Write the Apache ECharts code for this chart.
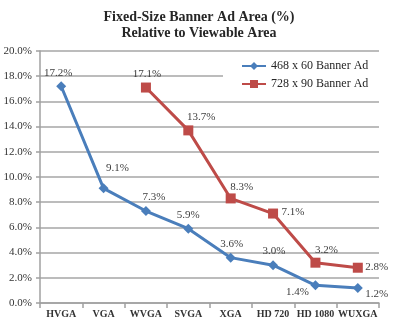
<!DOCTYPE html>
<html>
<head>
<meta charset="utf-8">
<script src="https://cdn.jsdelivr.net/npm/echarts@6/dist/echarts.min.js"></script>
<style>
html,body{margin:0;padding:0;background:#fff;}
#c{width:394px;height:322px;}
</style>
</head>
<body>
<div id="c"></div>
<script>
var categories = ['HVGA','VGA','WVGA','SVGA','XGA','HD 720','HD 1080','WUXGA'];
var banner468 = [17.2, 9.1, 7.3, 5.9, 3.6, 3.0, 1.4, 1.2];
var banner728 = [null, null, 17.1, 13.7, 8.3, 7.1, 3.2, 2.8];
var seriesNames = ['468 x 60 Banner Ad', '728 x 90 Banner Ad'];
var yTicks = [0, 2, 4, 6, 8, 10, 12, 14, 16, 18, 20];

// label offsets (pixels from point centre)
var off468 = [[-3,-13],[14,-20],[8,-14],[0,-14],[1,-14],[1,-14],[-18,7],[19,6]];
var off728 = [null,null,[1,-13],[13,-13],[11,-11],[20,-1],[11,-13],[19,-1]];

var FONT = '"Liberation Serif", "DejaVu Serif", serif';
var BLUE = '#4a7ebb';
var RED = '#be4b48';

function build(vals, offs) {
  return vals.map(function (v, i) {
    if (v === null) return null;
    return {
      value: v,
      label: { show: true, position: 'inside', offset: offs[i] }
    };
  });
}

var chart = echarts.init(document.getElementById('c'), null, {renderer: 'canvas'});
chart.setOption({
  animation: false,
  backgroundColor: '#fff',
  title: {
    text: 'Fixed-Size Banner Ad Area (%)\nRelative to Viewable Area',
    left: 194, top: 4, textAlign: 'center',
    textStyle: { fontFamily: FONT, fontWeight: 'bold', fontSize: 14, color: '#262626', lineHeight: 16 }
  },
  legend: {
    orient: 'vertical',
    left: 223, top: 57,
    padding: [3, 18, 6, 18],
    backgroundColor: '#fff',
    itemWidth: 24, itemHeight: 10, itemGap: 6,
    textStyle: { fontFamily: FONT, fontSize: 12, color: '#262626' },
    data: seriesNames
  },
  grid: { left: 40, right: 15, top: 51, bottom: 19, containLabel: false },
  xAxis: {
    type: 'category',
    data: categories,
    boundaryGap: true,
    axisLine: { lineStyle: { color: '#a0a0a0', width: 1.5 } },
    axisTick: { show: true, alignWithLabel: false, interval: 0, length: 5, lineStyle: { color: '#a0a0a0', width: 1.5 } },
    axisLabel: { interval: 0, fontFamily: FONT, fontSize: 10, fontWeight: 'bold', color: '#333', margin: 6 }
  },
  yAxis: {
    type: 'value',
    min: yTicks[0], max: yTicks[yTicks.length - 1], interval: 2,
    axisLine: { show: true, lineStyle: { color: '#a0a0a0', width: 1.5 } },
    axisTick: { show: true, length: 4, lineStyle: { color: '#a0a0a0', width: 1.5 } },
    splitLine: { lineStyle: { color: '#a6a6a6', width: 1.5 } },
    axisLabel: { fontFamily: FONT, fontSize: 11, color: '#333', margin: 8,
      formatter: function (v) { return v.toFixed(1) + '%'; } }
  },
  series: [
    {
      name: seriesNames[0], type: 'line',
      data: build(banner468, off468),
      symbol: 'diamond', symbolSize: 10,
      lineStyle: { color: BLUE, width: 3 },
      itemStyle: { color: BLUE },
      label: { fontFamily: FONT, fontSize: 11, color: '#404040',
        formatter: function (p) { return p.value.toFixed(1) + '%'; } },
      z: 3
    },
    {
      name: seriesNames[1], type: 'line',
      data: build(banner728, off728),
      symbol: 'rect', symbolSize: 10,
      lineStyle: { color: RED, width: 3 },
      itemStyle: { color: RED },
      label: { fontFamily: FONT, fontSize: 11, color: '#404040',
        formatter: function (p) { return p.value.toFixed(1) + '%'; } },
      z: 2
    }
  ]
});
</script>
</body>
</html>
